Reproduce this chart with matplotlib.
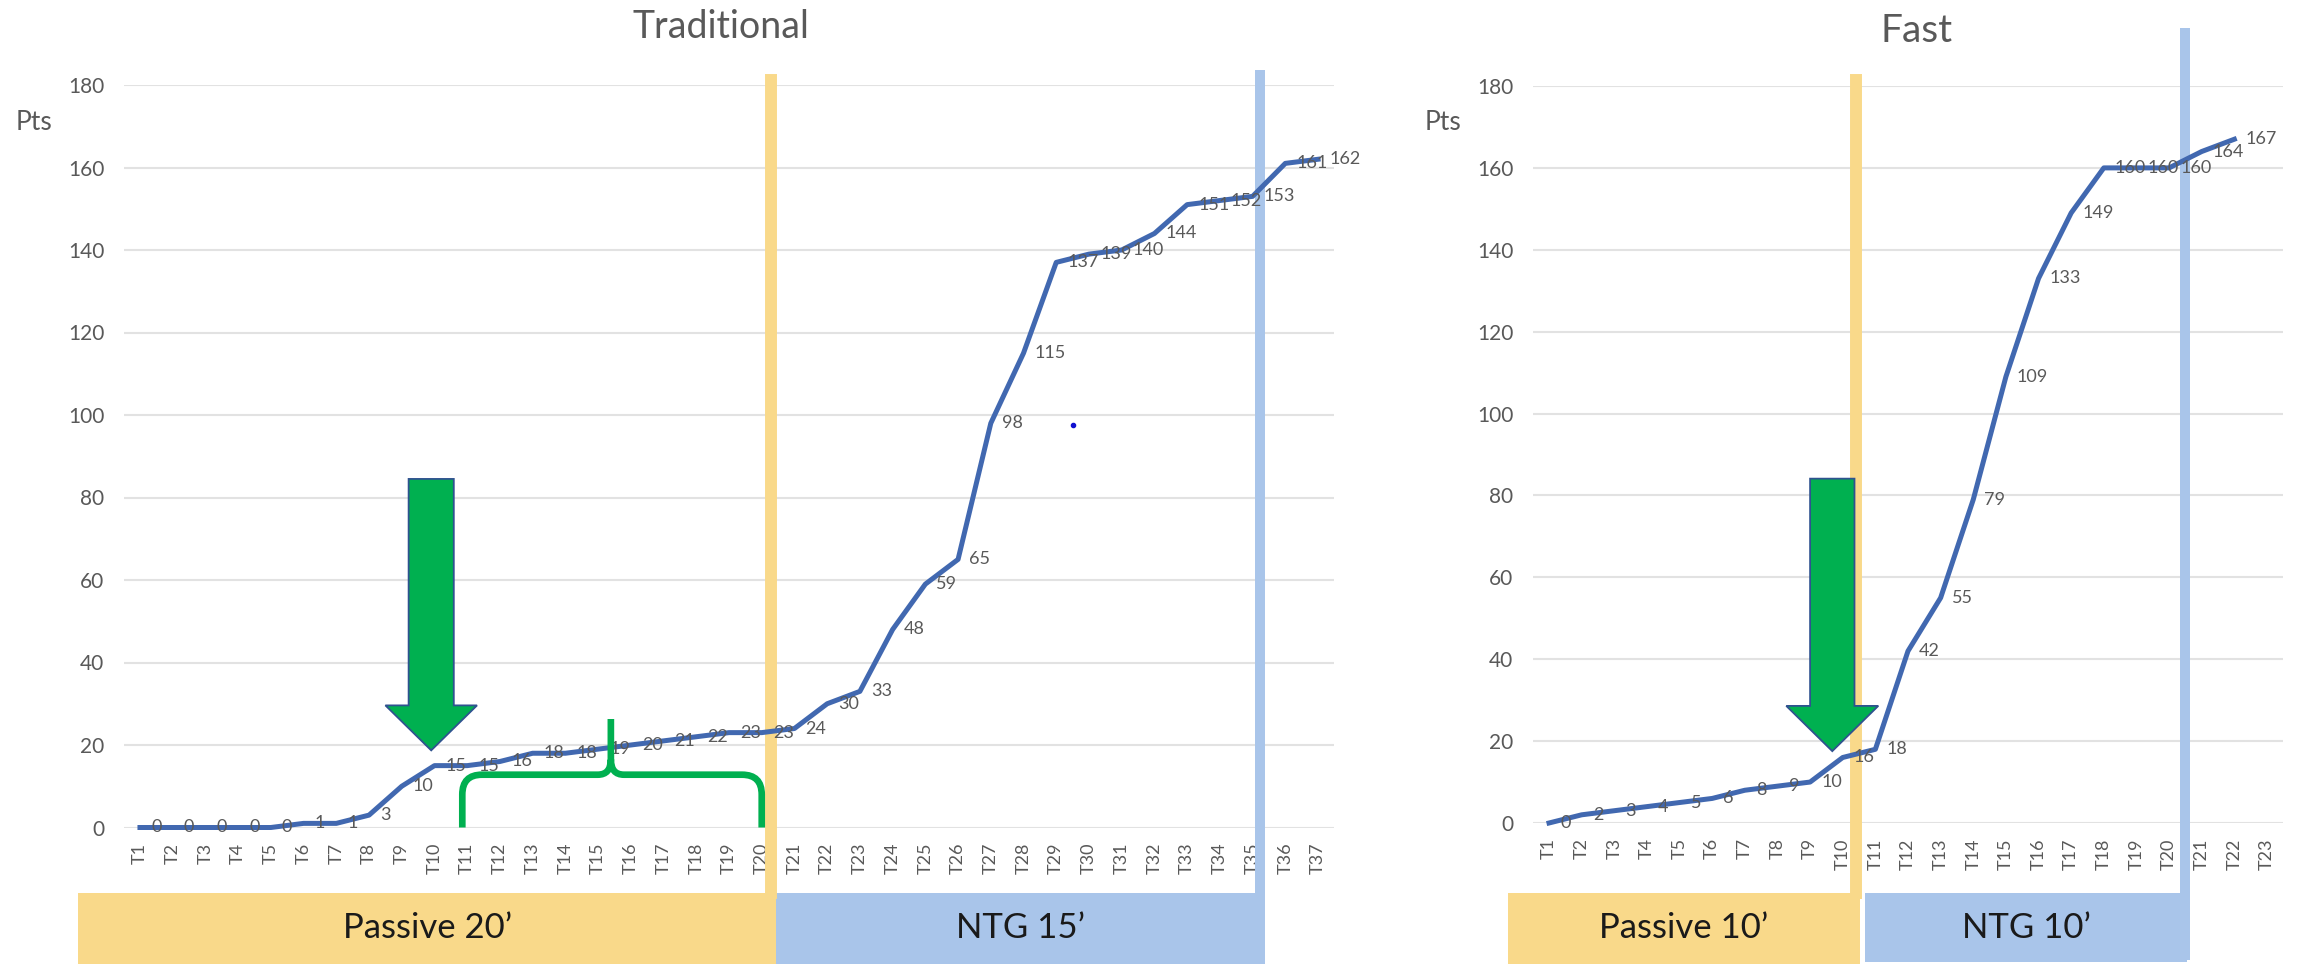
import matplotlib
matplotlib.use("Agg")
from matplotlib import pyplot as plt
from matplotlib.patches import Polygon, Rectangle, PathPatch
from matplotlib.path import Path
import matplotlib.transforms as mtransforms

plt.rcParams['font.family'] = ['Lato', 'DejaVu Sans']

# ---- data ----
trad_labels = ["T%d" % i for i in range(1, 38)]
trad_pts = [0, 0, 0, 0, 0, 1, 1, 3, 10, 15, 15, 16, 18, 18, 19, 20, 21, 22, 23, 23,
            24, 30, 33, 48, 59, 65, 98, 115, 137, 139, 140, 144, 151, 152, 153, 161, 162]
fast_labels = ["T%d" % i for i in range(1, 24)]
fast_pts = [0, 2, 3, 4, 5, 6, 8, 9, 10, 16, 18, 42, 55, 79, 109, 133, 149, 160, 160, 160,
            164, 167]

# phase switches (category index units, between ticks)
trad_switch = 19.27
trad_end = 34.24
fast_switch = 9.42
fast_end = 19.5

trad_phases = ["Passive 20\u2019", "NTG 15\u2019"]
fast_phases = ["Passive 10\u2019", "NTG 10\u2019"]

stray_dot = (28.5, 97.6)

W, H = 2305, 964
fig = plt.figure(figsize=(W / 100, H / 100), dpi=100)
fig.patch.set_facecolor("white")

LINE = "#4168B0"
GRID = "#E2E2E2"
TXT = "#595959"
YEL = "#F9D98A"
BLU = "#A9C5EA"
GREEN = "#00B050"


def rect_px(left, top, right, bottom):
    return [left / W, 1 - bottom / H, (right - left) / W, (bottom - top) / H]


def yfrac(ax_top, ax_bot, y):
    return (ax_bot - y) / (ax_bot - ax_top)


def setup(ax, labels, pts):
    n = len(labels)
    x = list(range(len(pts)))
    ax.plot(x, pts, color=LINE, lw=3.6, zorder=4, clip_on=False, solid_joinstyle="round")
    for i, v in enumerate(pts):
        ax.annotate(str(v), (i, v), xytext=(8, 0), textcoords="offset points",
                    ha="left", va="center", fontsize=13, color=TXT, zorder=5)
    ax.set_xlim(-0.5, n - 0.5)
    ax.set_ylim(0, 180)
    ax.set_yticks(range(0, 181, 20))
    ax.set_xticks(range(n))
    ax.set_xticklabels(labels, rotation=90)
    ax.tick_params(axis="y", length=0, pad=14, labelsize=15, labelcolor=TXT)
    ax.tick_params(axis="x", length=0, pad=11, labelsize=13, labelcolor=TXT)
    ax.yaxis.grid(True, color=GRID, lw=1.5)
    ax.set_axisbelow(True)
    for s in ax.spines.values():
        s.set_visible(False)


def vline(ax, x, top_px, bot_px, ax_top, ax_bot, color, lw):
    ax.axvline(x, ymin=yfrac(ax_top, ax_bot, bot_px), ymax=yfrac(ax_top, ax_bot, top_px),
               color=color, lw=lw, zorder=3, clip_on=False)


def band(ax, x0, x1, color, text, top_px=893, bot_px=964):
    tr = mtransforms.blended_transform_factory(ax.transData, fig.transFigure)
    ax.add_patch(Rectangle((x0, 1 - bot_px / H), x1 - x0, (bot_px - top_px) / H,
                           transform=tr, fc=color, ec="none", clip_on=False, zorder=2))
    ax.text((x0 + x1) / 2, 1 - (top_px + bot_px) / 2 / H, text, transform=tr,
            ha="center", va="center", fontsize=25, color="#1a1a1a", zorder=3)


def arrow(ax, cx, shaft, head, top, base, tip):
    pts = [(cx - shaft, top), (cx + shaft, top), (cx + shaft, base), (cx + head, base),
           (cx, tip), (cx - head, base), (cx - shaft, base)]
    ax.add_patch(Polygon(pts, closed=True, fc=GREEN, ec="#2F528F", lw=1.3,
                         zorder=7, clip_on=False))


# ---- Traditional ----
a_top, a_bot = 85, 827.5
ax1 = fig.add_axes(rect_px(123.6, a_top, 1334.4, a_bot))
setup(ax1, trad_labels, trad_pts)
vline(ax1, trad_switch, 80, 893, a_top, a_bot, YEL, 8.6)
vline(ax1, trad_end, 75, 964, a_top, a_bot, BLU, 7.2)
band(ax1, -1.89, 19.45, YEL, trad_phases[0])
band(ax1, 19.45, 34.39, BLU, trad_phases[1])
arrow(ax1, 8.9, 0.69, 1.4, 84.5, 29.6, 18.7)
ax1.plot([stray_dot[0]], [stray_dot[1]], "o", color="#1010D0", ms=3, zorder=5)

# curly bracket under T11-T20
bx0, bx1, bm, by, bpk = 9.85, 19.0, 14.39, 12.8, 26.3
verts = [(bx0, 0), (bx0, by - 4.8), (bx0, by), (bx0 + 0.6, by), (bm - 0.4, by),
         (bm, by), (bm, by + 3.7), (bm, bpk),
         (bx1, 0), (bx1, by - 4.8), (bx1, by), (bx1 - 0.6, by), (bm + 0.4, by),
         (bm, by), (bm, by + 3.7)]
codes = [Path.MOVETO, Path.LINETO, Path.CURVE3, Path.CURVE3, Path.LINETO,
         Path.CURVE3, Path.CURVE3, Path.LINETO,
         Path.MOVETO, Path.LINETO, Path.CURVE3, Path.CURVE3, Path.LINETO,
         Path.CURVE3, Path.CURVE3]
ax1.add_patch(PathPatch(Path(verts, codes), fc="none", ec=GREEN, lw=4.8,
                        zorder=6, clip_on=False, capstyle="butt"))

fig.text(721 / W, 1 - 27 / H, "Traditional", ha="center", va="center", fontsize=27, color=TXT)
fig.text(34 / W, 1 - 122 / H, "Pts", ha="center", va="center", fontsize=19, color=TXT)

# ---- Fast ----
b_top, b_bot = 86, 823
ax2 = fig.add_axes(rect_px(1532.7, b_top, 2283.3, b_bot))
setup(ax2, fast_labels, fast_pts)
vline(ax2, fast_switch, 80, 893, b_top, b_bot, YEL, 8.6)
vline(ax2, fast_end, 33, 955, b_top, b_bot, BLU, 7.2)
band(ax2, -1.26, 9.53, YEL, fast_phases[0])
band(ax2, 9.68, 19.55, BLU, fast_phases[1], bot_px=962)
arrow(ax2, 8.68, 0.68, 1.41, 84.1, 28.6, 17.55)

fig.text(1917 / W, 1 - 31 / H, "Fast", ha="center", va="center", fontsize=28, color=TXT)
fig.text(1443 / W, 1 - 123 / H, "Pts", ha="center", va="center", fontsize=19, color=TXT)

fig.savefig("out.png", dpi=100, facecolor="white")
